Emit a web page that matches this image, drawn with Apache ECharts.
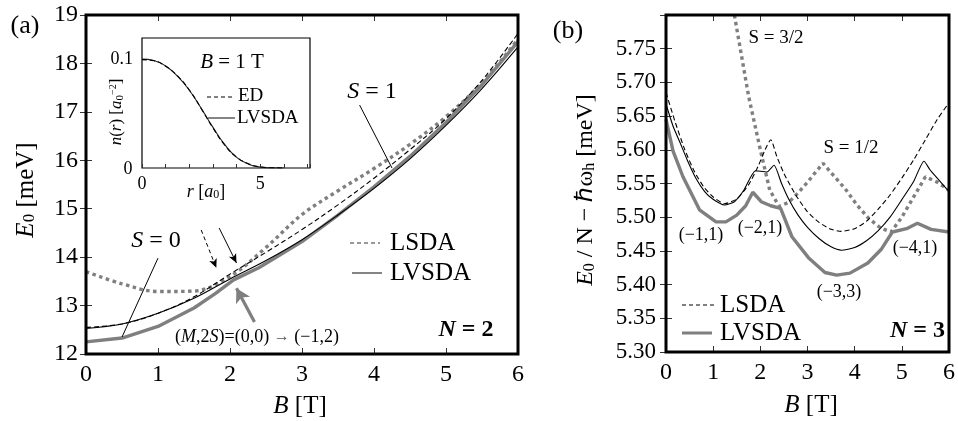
<!DOCTYPE html>
<html>
<head>
<meta charset="utf-8">
<script src="https://cdn.jsdelivr.net/npm/echarts@6/dist/echarts.min.js"></script>
<style>
  html, body { margin: 0; padding: 0; background: #fff; }
  #chart { width: 958px; height: 421px; }
</style>
</head>
<body>
<div id="chart"></div>
<script>
// ---- (a) N = 2: ground-state energy E0 vs magnetic field B ----
const bA = [0, 0.5, 1, 1.5, 2, 2.5, 3, 3.5, 4, 4.5, 5, 5.5, 6];
const lsdaBlackA  = [12.55, 12.62, 12.84, 13.18, 13.65, 14.10, 14.57, 15.08, 15.63, 16.22, 16.86, 17.65, 18.62];
const lvsdaBlackA = [12.53, 12.62, 12.84, 13.15, 13.55, 13.93, 14.36, 14.87, 15.42, 16.03, 16.72, 17.48, 18.34];
const lsdaGrayA   = [13.70, 13.45, 13.29, 13.30, 13.60, 14.20, 14.88, 15.37, 15.83, 16.33, 16.90, 17.60, 18.50];
const bGrayA      = [0, 0.5, 1, 1.5, 1.8, 2.05, 2.4, 3, 3.5, 4, 4.5, 5, 5.5, 6];
const lvsdaGrayA  = [12.25, 12.33, 12.57, 12.95, 13.25, 13.53, 13.78, 14.32, 14.87, 15.45, 16.08, 16.78, 17.56, 18.45];

// inset: density profile n(r) at B = 1 T
const rIn   = [0, 0.5, 1, 1.5, 2, 2.5, 3, 3.5, 4, 4.5, 5, 5.5, 6];
const nED   = [0.1000, 0.0990, 0.0940, 0.0850, 0.0720, 0.0550, 0.0370, 0.0210, 0.0100, 0.0040, 0.0010, 0.0002, 0];
const nLVSDA= [0.1005, 0.0992, 0.0942, 0.0848, 0.0718, 0.0552, 0.0375, 0.0215, 0.0098, 0.0035, 0.0008, 0.0001, 0];

// ---- (b) N = 3: E0/N - hbar*omega_h vs B ----
const bLsdaB  = [0, 0.2, 0.4, 0.6, 0.8, 1.0, 1.24, 1.5, 1.75, 1.95, 2.1, 2.22, 2.35, 2.5, 2.75, 3.0, 3.25, 3.5, 3.72, 4.0, 4.25, 4.5, 4.75, 5.0, 5.25, 5.5, 5.75, 6.0];
const lsdaB   = [5.685, 5.640, 5.600, 5.568, 5.545, 5.530, 5.520, 5.527, 5.548, 5.575, 5.600, 5.615, 5.590, 5.565, 5.533, 5.508, 5.492, 5.482, 5.479, 5.483, 5.494, 5.512, 5.533, 5.558, 5.585, 5.615, 5.645, 5.670];
const bLvsdaB = [0, 0.15, 0.29, 0.45, 0.64, 0.82, 0.99, 1.24, 1.45, 1.65, 1.9, 2.14, 2.29, 2.45, 2.6, 2.8, 3.0, 3.25, 3.5, 3.72, 4.0, 4.25, 4.5, 4.75, 5.0, 5.25, 5.47, 5.6, 5.75, 6.0];
const lvsdaB  = [5.668, 5.635, 5.612, 5.585, 5.557, 5.538, 5.527, 5.518, 5.523, 5.540, 5.569, 5.567, 5.577, 5.550, 5.527, 5.503, 5.485, 5.468, 5.456, 5.451, 5.455, 5.465, 5.480, 5.500, 5.526, 5.553, 5.583, 5.570, 5.558, 5.538];
const bLsdaGrayB = [1.45, 1.6, 1.75, 2.0, 2.2, 2.4, 2.6, 2.8, 3.0, 3.15, 3.33, 3.55, 3.8, 4.05, 4.3, 4.55, 4.77, 5.0, 5.25, 5.5, 5.75, 6.0];
const lsdaGrayB  = [5.800, 5.740, 5.680, 5.600, 5.540, 5.516, 5.522, 5.536, 5.552, 5.565, 5.580, 5.562, 5.542, 5.518, 5.498, 5.484, 5.478, 5.500, 5.530, 5.560, 5.552, 5.540];
const bLvsdaGrayB = [0, 0.15, 0.36, 0.71, 1.06, 1.27, 1.5, 1.69, 1.84, 2.02, 2.22, 2.43, 2.67, 3.02, 3.37, 3.62, 3.9, 4.28, 4.56, 4.8, 5.1, 5.33, 5.62, 6.0];
const lvsdaGrayB  = [5.645, 5.598, 5.560, 5.511, 5.493, 5.493, 5.503, 5.517, 5.537, 5.523, 5.517, 5.513, 5.471, 5.440, 5.418, 5.414, 5.417, 5.432, 5.452, 5.478, 5.483, 5.491, 5.482, 5.478];

// tick label sets
const ticksB  = [0, 1, 2, 3, 4, 5, 6];
const ticksEA = [12, 13, 14, 15, 16, 17, 18, 19];
const ticksEB = ['5.30', '5.35', '5.40', '5.45', '5.50', '5.55', '5.60', '5.65', '5.70', '5.75'];
const ticksR  = [0, 5];
const ticksN  = ['0', '0.1'];

// pointer lines and arrows in panel (a), in data coordinates [B, E0]
const pointersA = [
  { from: [3.80, 17.14], to: [4.25, 15.84], head: false, dash: false, gray: false },
  { from: [1.00, 13.98], to: [0.50, 12.35], head: false, dash: false, gray: false },
  { from: [1.85, 14.60], to: [2.09, 13.88], head: true,  dash: false, gray: false },
  { from: [1.60, 14.56], to: [1.81, 13.78], head: true,  dash: true,  gray: false },
  { from: [2.34, 12.66], to: [2.09, 13.36], head: true,  dash: false, gray: true }
];

const FONT = 'Liberation Serif';
const GRAY = '#7f7f7f';
const zip = (xs, ys) => xs.map((x, i) => [x, ys[i]]);

function xAxisDef(grid, pos, min, max, labels, fs, tickLen, margin) {
  return {
    type: 'value', gridIndex: grid, position: pos, min, max, interval: 1,
    axisLine: { show: false }, splitLine: { show: false },
    axisTick: { show: true, inside: true, length: tickLen, lineStyle: { color: '#333', width: 1 } },
    axisLabel: {
      show: !!labels, margin: margin || 9, fontFamily: FONT, fontSize: fs, color: '#000',
      showMinLabel: true, hideOverlap: false,
      formatter: v => (labels && labels.indexOf(Math.round(v * 100) / 100) >= 0) ? String(Math.round(v)) : ''
    }
  };
}

const sub = fs => ({ fontFamily: FONT, fontSize: Math.round(fs * 0.66), verticalAlign: 'bottom', lineHeight: Math.round(fs * 0.55) });
const sup = fs => ({ fontFamily: FONT, fontSize: Math.round(fs * 0.6), verticalAlign: 'top', lineHeight: Math.round(fs * 0.5) });
const ital = fs => ({ fontFamily: FONT, fontSize: fs, fontStyle: 'italic' });
const norm = fs => ({ fontFamily: FONT, fontSize: fs });

function text(x, y, str, fs, extra) {
  const st = Object.assign({
    text: str, fontFamily: FONT, fontSize: fs, fill: '#000',
    align: 'center', verticalAlign: 'middle', textAlign: 'center', textVerticalAlign: 'middle'
  }, extra || {});
  return { type: 'text', x, y, z: 60, silent: true, style: st };
}
function rich(x, y, str, fs, richStyles, extra, rot) {
  const el = text(x, y, str, fs, Object.assign({ rich: richStyles }, extra || {}));
  if (rot) el.rotation = rot;
  return el;
}
function seg(x1, y1, x2, y2, color, w, dash) {
  return { type: 'line', z: 60, silent: true, shape: { x1, y1, x2, y2 },
           style: { stroke: color, lineWidth: w, lineDash: dash || null } };
}

const markA = pointersA.map(p => {
  const color = p.gray ? GRAY : '#000';
  const w = p.gray ? 3.2 : 1;
  return [
    { coord: p.from, symbol: 'none', lineStyle: { color, width: w, type: p.dash ? [4, 3] : 'solid' } },
    { coord: p.to, symbol: p.head ? 'arrow' : 'none', symbolSize: p.gray ? [12, 14] : [6, 9] }
  ];
});

const thin = (color, dash) => ({ color, width: 1.1, type: dash ? [5, 3] : 'solid' });
const thick = (dots) => ({ color: GRAY, width: 3.4, type: dots ? [3.5, 3.5] : 'solid', cap: 'butt' });

const zeroLabel = text(128, 169, ticksN[0], 18);
zeroLabel.zlevel = 2;
zeroLabel.z = 200;

const option = {
  animation: false,
  backgroundColor: '#fff',
  grid: [
    { left: 86, top: 15, width: 432, height: 339, show: true, borderColor: '#000', borderWidth: 3, backgroundColor: 'transparent', z: 5 },
    { left: 666, top: 15, width: 286, height: 337, show: true, borderColor: '#000', borderWidth: 3, backgroundColor: 'transparent', z: 5 },
    { left: 142, top: 38, width: 168, height: 130, show: true, borderColor: '#000', borderWidth: 1.2, backgroundColor: '#fff', z: 10 }
  ],
  xAxis: [
    xAxisDef(0, 'bottom', 0, 6, ticksB, 24, 6, 9),
    xAxisDef(0, 'top', 0, 6, null, 24, 6),
    xAxisDef(1, 'bottom', 0, 6, ticksB, 24, 6, 9),
    xAxisDef(1, 'top', 0, 6, null, 24, 6),
    Object.assign(xAxisDef(2, 'bottom', 0, 7.1, ticksR, 18, 4, 7), { z: 12 })
  ],
  yAxis: [
    {
      type: 'value', gridIndex: 0, position: 'left', min: 12, max: 19, interval: 1,
      axisLine: { show: false }, splitLine: { show: false },
      axisTick: { inside: true, length: 6, lineStyle: { color: '#333', width: 1 } },
      axisLabel: { margin: 8, fontFamily: FONT, fontSize: 24, color: '#000', showMinLabel: true, hideOverlap: false,
        formatter: v => ticksEA.indexOf(Math.round(v)) >= 0 ? String(Math.round(v)) : '' }
    },
    {
      type: 'value', gridIndex: 0, position: 'right', min: 12, max: 19, interval: 1,
      axisLine: { show: false }, splitLine: { show: false },
      axisTick: { inside: true, length: 6, lineStyle: { color: '#333', width: 1 } },
      axisLabel: { show: false }
    },
    {
      type: 'value', gridIndex: 1, position: 'left', min: 5.30, max: 5.80, interval: 0.05,
      axisLine: { show: false }, splitLine: { show: false },
      axisTick: { inside: true, length: 6, lineStyle: { color: '#333', width: 1 } },
      axisLabel: { margin: 10, fontFamily: FONT, fontSize: 23, color: '#000', showMinLabel: true, hideOverlap: false,
        formatter: v => { const s = v.toFixed(2); return ticksEB.indexOf(s) >= 0 ? s : ''; } }
    },
    {
      type: 'value', gridIndex: 1, position: 'right', min: 5.30, max: 5.80, interval: 0.05,
      axisLine: { show: false }, splitLine: { show: false },
      axisTick: { inside: true, length: 6, lineStyle: { color: '#333', width: 1 } },
      axisLabel: { show: false }
    },
    {
      type: 'value', gridIndex: 2, position: 'left', min: 0, max: 0.12, interval: 0.1, z: 12,
      axisLine: { show: false }, splitLine: { show: false },
      axisTick: { inside: true, length: 4, lineStyle: { color: '#333', width: 1 } },
      axisLabel: { margin: 9, fontFamily: FONT, fontSize: 18, color: '#000', showMinLabel: false, showMaxLabel: false, hideOverlap: false,
        formatter: v => { const s = Math.abs(v - 0.1) < 1e-9 ? '0.1' : ''; return ticksN.indexOf(s) >= 0 ? s : ''; } }
    }
  ],
  series: [
    // panel (a)
    { type: 'line', xAxisIndex: 0, yAxisIndex: 0, data: zip(bA, lsdaGrayA), showSymbol: false, smooth: 0.35, lineStyle: thick(true), z: 3 },
    { type: 'line', xAxisIndex: 0, yAxisIndex: 0, data: zip(bGrayA, lvsdaGrayA), showSymbol: false, lineStyle: thick(false), z: 3 },
    { type: 'line', xAxisIndex: 0, yAxisIndex: 0, data: zip(bA, lsdaBlackA), showSymbol: false, smooth: 0.35, lineStyle: thin('#000', true), z: 4 },
    { type: 'line', xAxisIndex: 0, yAxisIndex: 0, data: zip(bA, lvsdaBlackA), showSymbol: false, smooth: 0.35, lineStyle: thin('#000', false), z: 4,
      markLine: { silent: true, animation: false, label: { show: false }, symbol: ['none', 'none'], data: markA } },
    // inset
    { type: 'line', xAxisIndex: 4, yAxisIndex: 4, data: zip(rIn, nLVSDA), showSymbol: false, smooth: true, lineStyle: thin('#222', false), z: 12 },
    { type: 'line', xAxisIndex: 4, yAxisIndex: 4, data: zip(rIn, nED), showSymbol: false, smooth: true, lineStyle: thin('#000', true), z: 12 },
    // panel (b)
    { type: 'line', xAxisIndex: 2, yAxisIndex: 2, data: zip(bLsdaGrayB, lsdaGrayB), showSymbol: false, lineStyle: thick(true), z: 3 },
    { type: 'line', xAxisIndex: 2, yAxisIndex: 2, data: zip(bLvsdaGrayB, lvsdaGrayB), showSymbol: false, lineStyle: thick(false), z: 3 },
    { type: 'line', xAxisIndex: 2, yAxisIndex: 2, data: zip(bLsdaB, lsdaB), showSymbol: false, smooth: 0.2, lineStyle: thin('#000', true), z: 4 },
    { type: 'line', xAxisIndex: 2, yAxisIndex: 2, data: zip(bLvsdaB, lvsdaB), showSymbol: false, smooth: 0.2, lineStyle: thin('#000', false), z: 4 }
  ],
  graphic: [
    // panel letters
    text(25, 26, '(a)', 26),
    text(568, 31, '(b)', 26),
    // axis titles
    rich(300, 406, '{i|B} [T]', 25, { i: ital(25), n: norm(25) }),
    rich(811, 405, '{i|B} [T]', 25, { i: ital(25), n: norm(25) }),
    rich(26, 190, '{i|E}{s|0} [meV]', 25, { i: ital(25), s: sub(25) }, null, Math.PI / 2),
    rich(586, 190, '{i|E}{s|0} / N − ℏω{s|h} [meV]', 24, { i: ital(24), s: sub(24) }, null, Math.PI / 2),
    // inset: zero label of the density axis, titles
    zeroLabel,
    rich(232, 62, '{i|B} = 1 T', 21, { i: ital(21) }),
    rich(206, 192, '{i|r} [{i2|a}{s|0}]', 18, { i: ital(18), i2: ital(18), s: sub(18) }),
    rich(117, 112, '{i|n}({i|r}) [{i|a}{s|0}{p|−2}]', 17, { i: ital(17), s: sub(17), p: sup(17) }, null, Math.PI / 2),
    // inset legend
    seg(207, 97, 233, 97, '#000', 1, [4, 3]),
    text(238, 96, 'ED', 19, { align: 'left', textAlign: 'left' }),
    seg(208, 118, 235, 118, '#333', 1.2),
    text(237, 118, 'LVSDA', 19, { align: 'left', textAlign: 'left' }),
    // panel (a) annotations
    rich(372, 92, '{i|S} = 1', 24, { i: ital(24) }),
    rich(156, 241, '{i|S} = 0', 24, { i: ital(24) }),
    seg(350, 243, 380, 243, '#333', 1, [4, 3]),
    text(390, 243, 'LSDA', 25, { align: 'left', textAlign: 'left' }),
    seg(352, 273, 382, 273, '#333', 1.2),
    text(390, 273, 'LVSDA', 25, { align: 'left', textAlign: 'left' }),
    rich(466, 330, '{b|N} {c|= 2}', 24, { b: { fontFamily: FONT, fontSize: 24, fontStyle: 'italic', fontWeight: 'bold' }, c: { fontFamily: FONT, fontSize: 24, fontWeight: 'bold' } }),
    rich(257, 337, '({i|M},2{i|S})=(0,0) {g|→} (−1,2)', 18, { i: ital(18), g: { fontFamily: FONT, fontSize: 16, fill: '#555', color: '#555' } }),
    // panel (b) annotations
    text(776, 38, 'S = 3/2', 19),
    text(851, 148, 'S = 1/2', 19),
    text(701, 235, '(−1,1)', 18),
    text(760, 228, '(−2,1)', 18),
    text(839, 292, '(−3,3)', 18),
    text(915, 248, '(−4,1)', 18),
    seg(682, 305, 715, 305, '#000', 1, [4, 3]),
    text(720, 305, 'LSDA', 25, { align: 'left', textAlign: 'left' }),
    seg(682, 333, 712, 333, GRAY, 3),
    text(720, 333, 'LVSDA', 25, { align: 'left', textAlign: 'left' }),
    rich(945, 331, '{b|N} {c|= 3}', 24, { b: { fontFamily: FONT, fontSize: 24, fontStyle: 'italic', fontWeight: 'bold' }, c: { fontFamily: FONT, fontSize: 24, fontWeight: 'bold' } }, { align: 'right', textAlign: 'right' })
  ]
};

const chart = echarts.init(document.getElementById('chart'), null, { renderer: 'canvas' });
chart.setOption(option);
</script>
</body>
</html>
